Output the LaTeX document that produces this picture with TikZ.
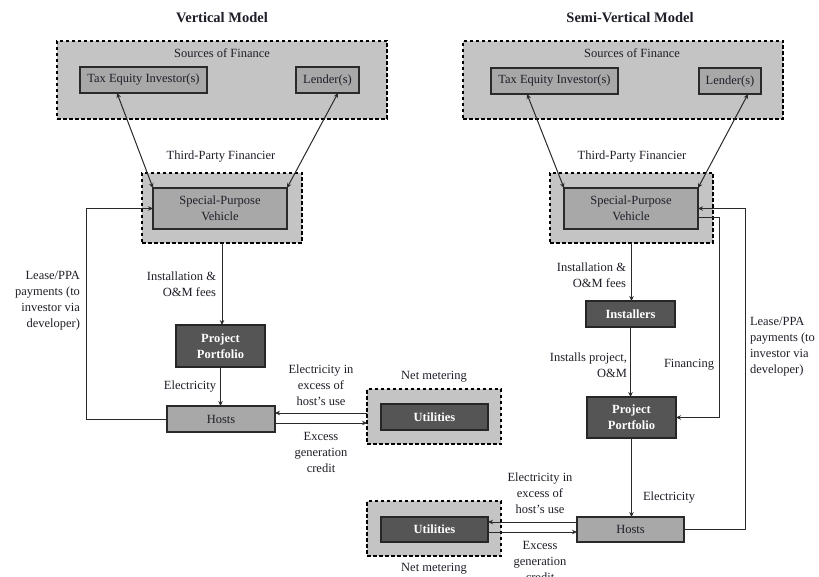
\documentclass[tikz,border=0pt]{standalone}
\usepackage{fontspec}
\setmainfont{Liberation Serif}
\usetikzlibrary{calc,arrows.meta}
\definecolor{outerfill}{HTML}{C4C4C4}
\definecolor{innerfill}{HTML}{A8A8A8}
\definecolor{darkfill}{HTML}{555555}
\definecolor{inktext}{HTML}{1E1E28}
\definecolor{linecol}{HTML}{2A2A2A}
\tikzset{
  base/.style={inner sep=0pt, outer sep=0pt, font=\fontsize{12.5}{16}\selectfont, text=inktext},
  outerbox/.style={base, draw=black, fill=outerfill, line width=1.8pt, dash pattern=on 3.5pt off 2.5pt},
  innerbox/.style={base, draw=linecol, fill=innerfill, line width=1.2pt},
  darkbox/.style={base, draw=black!85, fill=darkfill, line width=1.2pt, text=white, font=\fontsize{12.5}{16}\selectfont\bfseries, align=center},
  lbl/.style={base, align=center},
  ttl/.style={base, font=\fontsize{14.5}{18}\selectfont\bfseries},
  conn/.style={draw=linecol, line width=1pt},
  arr/.style={conn, -{Stealth[length=5pt,width=4.5pt]}},
  darr/.style={conn, {Stealth[length=5pt,width=4.5pt]}-{Stealth[length=5pt,width=4.5pt]}},
}
\begin{document}
\begin{tikzpicture}[x=1pt,y=-1pt]
\useasboundingbox (0,0) rectangle (819,577);
\fill[white] (0,0) rectangle (819,577);

% ---------------- Left: Vertical Model ----------------
\node[ttl] (tL) at (222,18) {Vertical Model};
\node[outerbox, minimum width=330pt, minimum height=78pt] (srcL) at (222,80) {};
\node[lbl] (srcLt) at (222,53) {Sources of Finance};
\node[innerbox, minimum width=127pt, minimum height=26pt] (teL) at (143.5,80) {Tax Equity Investor(s)};
\node[innerbox, minimum width=63pt, minimum height=26pt] (ldL) at (327.5,80) {Lender(s)};
\node[lbl] (tpfL) at (221,157) {Third-Party Financier};
\node[outerbox, minimum width=160pt, minimum height=70pt] (spvoL) at (222,208) {};
\node[innerbox, minimum width=134pt, minimum height=41pt, align=center] (spvL) at (220,208.5) {Special-Purpose\\Vehicle};
\node[darkbox, minimum width=89pt, minimum height=42pt] (ppL) at (220.5,346) {Project\\Portfolio};
\node[innerbox, minimum width=108pt, minimum height=26pt] (hostL) at (221,419) {Hosts};
\node[outerbox, minimum width=134pt, minimum height=55pt] (utoL) at (434,416.5) {};
\node[darkbox, minimum width=107pt, minimum height=26pt] (utL) at (434.5,417) {Utilities};
\node[lbl] (nmL) at (434,377) {Net metering};

\node[lbl, anchor=east, align=right] (leaseL) at (80,301) {Lease/PPA\\payments (to\\investor via\\developer)};
\node[lbl, anchor=east, align=right] (instfL) at (216,284) {Installation \&\\O\&M fees};
\node[lbl, anchor=east] (elecL) at (216,387) {Electricity};
\node[lbl] (exL) at (321,385) {Electricity in\\excess of\\host’s use};
\node[lbl] (egL) at (321,452) {Excess\\generation\\credit};

\draw[darr] ($(teL.south west)+(37,0)$) -- (spvL.north west);
\draw[darr] ($(ldL.south)+(10.5,0)$) -- (spvL.north east);
\draw[arr] (spvoL.south) -- (spvoL.south |- ppL.north);
\draw[arr] (ppL.south) -- (ppL.south |- hostL.north);
\draw[arr] (hostL.west) -| ($(spvL.west)+(-67,0)$) -- (spvL.west);
\coordinate (hLa) at ($(hostL.east)+(0,-6)$);
\coordinate (hLb) at ($(hostL.east)+(0,4)$);
\draw[arr] (utoL.west |- hLa) -- (hLa);
\draw[arr] (hLb) -- (utoL.west |- hLb);

% ---------------- Right: Semi-Vertical Model ----------------
\node[ttl] (tR) at (630,18) {Semi-Vertical Model};
\node[outerbox, minimum width=320pt, minimum height=78pt] (srcR) at (623,80) {};
\node[lbl] (srcRt) at (632,53) {Sources of Finance};
\node[innerbox, minimum width=127pt, minimum height=26pt] (teR) at (554.5,81) {Tax Equity Investor(s)};
\node[innerbox, minimum width=62pt, minimum height=26pt] (ldR) at (730,81) {Lender(s)};
\node[lbl] (tpfR) at (632,157) {Third-Party Financier};
\node[outerbox, minimum width=163pt, minimum height=70pt] (spvoR) at (631.5,208) {};
\node[innerbox, minimum width=134pt, minimum height=41pt, align=center] (spvR) at (631,208.5) {Special-Purpose\\Vehicle};
\node[darkbox, minimum width=89pt, minimum height=26pt] (instR) at (630.5,314) {Installers};
\node[darkbox, minimum width=89pt, minimum height=41pt] (ppR) at (631.5,417.5) {Project\\Portfolio};
\node[innerbox, minimum width=107pt, minimum height=25pt] (hostR) at (630.5,529.5) {Hosts};
\node[outerbox, minimum width=134pt, minimum height=55pt] (utoR) at (434,528.5) {};
\node[darkbox, minimum width=107pt, minimum height=25pt] (utR) at (434.5,529.5) {Utilities};
\node[lbl] (nmR) at (434,569) {Net metering};

\node[lbl, anchor=east, align=right] (instfR) at (626,275) {Installation \&\\O\&M fees};
\node[lbl, anchor=east, align=right] (instpR) at (627,365) {Installs project,\\O\&M};
\node[lbl] (finR) at (689,365) {Financing};
\node[lbl, anchor=west, align=left] (leaseR) at (750,347) {Lease/PPA\\payments (to\\investor via\\developer)};
\node[lbl, anchor=west] (elecR) at (643,498) {Electricity};
\node[lbl] (exR) at (540,493) {Electricity in\\excess of\\host’s use};
\node[lbl] (egR) at (540,561) {Excess\\generation\\credit};

\draw[darr] ($(teR.south)+(-27.5,0)$) -- (spvR.north west);
\draw[darr] ($(ldR.south)+(18,0)$) -- (spvR.north east);
\draw[arr] (spvoR.south) -- (spvoR.south |- instR.north);
\draw[arr] (instR.south) -- (instR.south |- ppR.north);
\draw[arr] (ppR.south) -- (ppR.south |- hostR.north);
\draw[arr] ($(spvR.east)+(0,9.5)$) -| ($(ppR.east)+(43,0)$) -- (ppR.east);
\draw[arr] (hostR.east) -| ($(spvR.east)+(47,0)$) -- (spvR.east);
\coordinate (hRa) at ($(hostR.west)+(0,-7.5)$);
\coordinate (hRb) at ($(hostR.west)+(0,2.5)$);
\draw[arr] (hRa) -- (utR.east |- hRa);
\draw[arr] (utR.east |- hRb) -- (hRb);
\end{tikzpicture}
\end{document}
